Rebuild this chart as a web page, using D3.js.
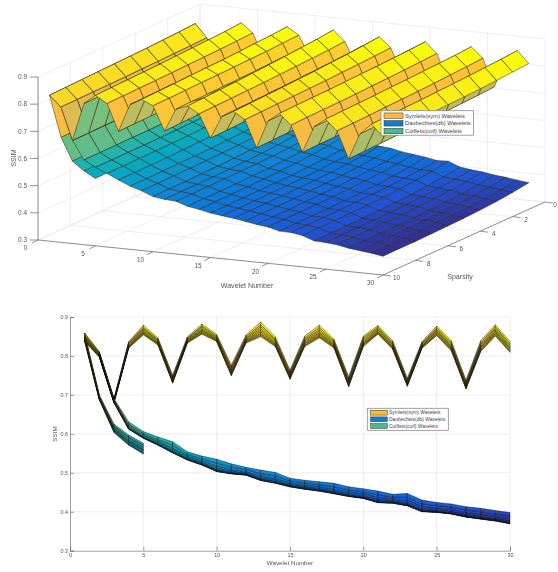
<!DOCTYPE html>
<html>

<head>
    <script src="https://d3js.org/d3.v7.min.js"></script>
    <style>
        body { margin: 0; background: #fff; }
        svg { display: block; filter: blur(0.35px); }
        text { font-family: "Liberation Sans", Arial, sans-serif; fill: #555; }
        .grid { stroke: #e6e6e6; stroke-width: 0.7px; fill: none; }
        .axisline { stroke: #666; stroke-width: 0.7px; fill: none; }
        .cell { stroke: #2a2410; stroke-linejoin: round; }
        .axis path, .axis line { stroke: #777; stroke-width: 0.7px; }
        .axis text { fill: #555; font-size: 5.4px; }
    </style>
</head>

<body>
    <div id="chart"></div>

    <script>
        // SSIM: one line per wavelet number, sparsity 1 to 10 left to right
        const symlets = [
            [.859, .855, .852, .849, .847, .845, .843, .841, .839, .837],
            [.811, .809, .807, .805, .804, .802, .801, .800, .799, .798],
            [.691, .689, .688, .686, .685, .684, .683, .682, .681, .680],
            [.837, .834, .832, .829, .827, .826, .824, .823, .821, .820],
            [.879, .874, .871, .868, .865, .862, .860, .858, .856, .854],
            [.846, .843, .840, .838, .836, .834, .832, .831, .829, .828],
            [.751, .747, .744, .742, .739, .737, .735, .733, .732, .730],
            [.849, .846, .844, .842, .840, .838, .837, .836, .834, .833],
            [.882, .877, .874, .870, .867, .865, .863, .860, .858, .856],
            [.855, .852, .849, .847, .845, .843, .842, .840, .838, .837],
            [.777, .772, .768, .764, .761, .758, .756, .753, .751, .749],
            [.854, .850, .847, .845, .842, .840, .838, .836, .835, .833],
            [.887, .880, .875, .870, .866, .862, .858, .855, .852, .849],
            [.849, .844, .841, .838, .835, .832, .830, .828, .826, .824],
            [.764, .760, .756, .753, .751, .748, .746, .744, .742, .740],
            [.851, .846, .842, .839, .836, .833, .831, .828, .826, .824],
            [.879, .873, .868, .864, .860, .857, .854, .851, .849, .846],
            [.843, .839, .836, .833, .830, .828, .826, .824, .822, .820],
            [.747, .742, .739, .735, .732, .730, .728, .725, .723, .721],
            [.851, .847, .843, .839, .835, .833, .830, .829, .826, .824],
            [.878, .874, .871, .868, .866, .863, .861, .860, .858, .856],
            [.839, .835, .832, .829, .827, .824, .822, .821, .819, .817],
            [.743, .739, .736, .734, .731, .729, .727, .725, .724, .722],
            [.837, .834, .832, .830, .827, .826, .824, .823, .821, .820],
            [.877, .872, .869, .866, .863, .861, .858, .856, .854, .852],
            [.839, .834, .831, .827, .824, .822, .820, .817, .815, .813],
            [.738, .734, .731, .728, .725, .723, .721, .719, .717, .715],
            [.839, .834, .830, .826, .823, .821, .818, .815, .813, .811],
            [.880, .875, .871, .867, .864, .861, .858, .856, .853, .851],
            [.837, .832, .828, .824, .821, .819, .816, .813, .811, .809]
        ];

        const daubechies = [
            [.859, .855, .852, .849, .847, .845, .843, .841, .839, .837],
            [.809, .807, .806, .804, .803, .801, .800, .799, .798, .797],
            [.690, .688, .687, .685, .684, .683, .682, .681, .680, .679],
            [.631, .625, .621, .618, .616, .614, .614, .613, .612, .612],
            [.606, .601, .597, .594, .592, .591, .590, .590, .589, .589],
            [.592, .585, .581, .578, .575, .574, .573, .572, .571, .571],
            [.580, .571, .564, .560, .557, .555, .553, .552, .552, .551],
            [.554, .547, .543, .540, .537, .536, .535, .534, .533, .533],
            [.543, .536, .531, .527, .525, .523, .522, .521, .520, .520],
            [.535, .525, .518, .513, .509, .507, .506, .504, .504, .503],
            [.523, .515, .509, .505, .502, .500, .499, .498, .498, .497],
            [.514, .508, .503, .500, .498, .497, .496, .495, .494, .494],
            [.507, .498, .492, .488, .485, .484, .482, .481, .481, .480],
            [.501, .492, .486, .482, .479, .477, .475, .474, .474, .473],
            [.486, .479, .474, .471, .468, .467, .466, .465, .464, .464],
            [.481, .474, .469, .465, .463, .461, .460, .459, .458, .458],
            [.477, .469, .464, .460, .458, .456, .455, .454, .453, .453],
            [.473, .464, .458, .454, .451, .450, .448, .447, .447, .446],
            [.464, .456, .451, .447, .444, .442, .441, .440, .440, .439],
            [.459, .451, .446, .442, .439, .437, .436, .435, .435, .434],
            [.453, .443, .437, .432, .429, .427, .425, .424, .424, .423],
            [.445, .438, .433, .429, .427, .425, .424, .423, .422, .422],
            [.447, .437, .430, .425, .421, .419, .418, .416, .416, .415],
            [.430, .420, .414, .409, .406, .404, .402, .401, .401, .400],
            [.424, .416, .410, .406, .403, .401, .400, .399, .399, .398],
            [.420, .412, .406, .402, .399, .397, .396, .395, .395, .394],
            [.413, .404, .398, .394, .391, .390, .388, .387, .387, .386],
            [.409, .400, .394, .390, .387, .385, .383, .382, .382, .381],
            [.403, .394, .388, .384, .381, .380, .378, .377, .377, .376],
            [.398, .389, .382, .378, .375, .373, .371, .370, .370, .369]
        ];

        const coiflets = [
            [.859, .855, .852, .849, .847, .845, .843, .841, .839, .837],
            [.700, .698, .696, .694, .693, .691, .690, .689, .688, .687],
            [.625, .621, .618, .615, .613, .611, .609, .607, .605, .603],
            [.597, .592, .589, .585, .582, .580, .578, .575, .573, .571],
            [.576, .571, .567, .563, .560, .558, .555, .552, .550, .548]
        ];

        const legendLabels = ['Symlets(sym) Wavelets', 'Daubechies(db) Wavelets', 'Coiflets(coif) Wavelets'];
        const legendColors = ['#fdb932', '#107ed2', '#4bb990'];
        const waveletTicks = [0, 5, 10, 15, 20, 25, 30];
        const sparsityTicks = [0, 2, 4, 6, 8, 10];
        const ssimTicks = [0.3, 0.4, 0.5, 0.6, 0.7, 0.8, 0.9];

        // parula, sampled
        const parulaStops = [0, .1, .2, .3, .4, .5, .6, .7, .8, .85, .9, 1];
        const parulaColors = ['#352a87', '#2053d4', '#0d75dc', '#108ed2', '#07a9c2', '#2eb7a4',
            '#71bf80', '#b7bd64', '#e9b94e', '#fdbe3d', '#fcce2e', '#f9fb0e'];

        const width = 558;
        const height = 572;
        const svg = d3.select('#chart').append('svg')
            .attr('width', width)
            .attr('height', height);

        const colorIndex = d3.scaleLinear().domain([0.369, 0.88]).range([0, 1]).clamp(true);
        const parula = d3.scaleLinear().domain(parulaStops).range(parulaColors);
        const surfaces = [symlets, daubechies, coiflets];

        // one quad per grid cell, coloured by its first corner like a flat matlab surf.
        // faces that fall steeply towards the next wavelet read more orange in the picture
        function buildCells(project, nearness) {
            const cells = [];
            surfaces.forEach(values => {
                d3.range(values.length - 1).forEach(i => {
                    d3.range(9).forEach(j => {
                        const corners = [[i, j], [i + 1, j], [i + 1, j + 1], [i, j + 1]]
                            .map(([a, b]) => [a + 1, b + 1, values[a][b]]);
                        const drop = Math.max(0, values[i][j] - values[i + 1][j]);
                        const index = colorIndex(values[i][j]) - (drop > 0.05 ? 0.5 * drop : 0);
                        cells.push({
                            points: corners.map(c => project(c[0], c[1], c[2])),
                            fill: parula(index),
                            depth: d3.mean(corners, c => nearness(c[0], c[1], c[2]))
                        });
                    });
                });
            });
            return cells.sort((a, b) => d3.ascending(a.depth, b.depth));
        }

        function drawLegend(x, y, w, h, patchX, patchW, patchH, rows, textX, fontSize) {
            const g = svg.append('g');
            g.append('rect').attr('x', x).attr('y', y).attr('width', w).attr('height', h)
                .attr('fill', '#fff').attr('stroke', '#8a8a8a').attr('stroke-width', 0.8);
            legendLabels.forEach((label, i) => {
                g.append('rect').attr('x', patchX).attr('y', rows[i] - patchH / 2)
                    .attr('width', patchW).attr('height', patchH)
                    .attr('fill', legendColors[i]).attr('stroke', '#333').attr('stroke-width', 0.5);
                g.append('text').attr('x', textX).attr('y', rows[i]).attr('dy', '0.35em')
                    .style('font-size', fontSize + 'px').style('fill', '#444').text(label);
            });
        }

        // ---- upper chart: 3d view ----
        const wave3d = d3.scaleLinear().domain([0, 30]).range([0, 1]);
        const spar3d = d3.scaleLinear().domain([0, 10]).range([1, 0]);
        const ssim3d = d3.scaleLinear().domain([0.3, 0.9]).range([0, 1]);
        const view3d = svg.append('g');

        // screen position of wavelet 0 / sparsity 10 / ssim 0.3 and where each full axis runs to
        function project(w, s, z) {
            const a = wave3d(w), b = spar3d(s), c = ssim3d(z);
            return [38 + a * 345 + b * 162, 240 + a * 35 - b * 73 - c * 163];
        }
        const near3d = (w, s, z) => w * 5.34 + s * 33.35 + ssim3d(z) * 35.7;
        const line3d = (a, b) => view3d.append('path').attr('d', d3.line()([a, b]));

        ssimTicks.forEach(z => {
            line3d(project(0, 10, z), project(0, 0, z)).attr('class', 'grid');
            line3d(project(0, 0, z), project(30, 0, z)).attr('class', 'grid');
        });
        waveletTicks.forEach(w => {
            line3d(project(w, 10, 0.3), project(w, 0, 0.3)).attr('class', 'grid');
            line3d(project(w, 0, 0.3), project(w, 0, 0.9)).attr('class', 'grid');
        });
        sparsityTicks.forEach(s => {
            line3d(project(0, s, 0.3), project(30, s, 0.3)).attr('class', 'grid');
            line3d(project(0, s, 0.3), project(0, s, 0.9)).attr('class', 'grid');
        });

        // axes and tick marks
        line3d(project(0, 10, 0.3), project(0, 10, 0.9)).attr('class', 'axisline');
        line3d(project(0, 10, 0.3), project(30, 10, 0.3)).attr('class', 'axisline');
        line3d(project(30, 10, 0.3), project(30, 0, 0.3)).attr('class', 'axisline');

        const tickText = (p, label, anchor) => view3d.append('text')
            .attr('x', p[0]).attr('y', p[1]).attr('dy', '0.35em')
            .attr('text-anchor', anchor).style('font-size', '6.4px').text(label);

        ssimTicks.forEach(z => {
            const p = project(0, 10, z);
            line3d(p, [p[0] - 8, p[1]]).attr('class', 'axisline');
            tickText([p[0] - 11, p[1]], d3.format('.1f')(z), 'end');
        });
        waveletTicks.forEach(w => {
            const p = project(w, 10, 0.3);
            line3d(p, [p[0] - 6, p[1] + 3]).attr('class', 'axisline');
            tickText([p[0] - 12.5, p[1] + 8], w, 'middle');
        });
        sparsityTicks.forEach(s => {
            const p = project(30, s, 0.3);
            line3d(p, [p[0] + 8, p[1] + 1]).attr('class', 'axisline');
            // the 0 sits hard against the page edge
            tickText([Math.min(p[0] + 13.5, 555), p[1] + 3], s, 'middle');
        });

        view3d.selectAll('polygon')
            .data(buildCells(project, near3d))
            .enter().append('polygon')
            .attr('class', 'cell')
            .attr('points', d => d.points.join(' '))
            .attr('fill', d => d.fill)
            .attr('stroke-width', 0.5);

        view3d.append('text').attr('x', 247).attr('y', 286).attr('dy', '0.35em').attr('text-anchor', 'middle')
            .style('font-size', '7.1px').text('Wavelet Number');
        view3d.append('text').attr('x', 460).attr('y', 277).attr('dy', '0.35em').attr('text-anchor', 'middle')
            .style('font-size', '7.1px').text('Sparsity');
        view3d.append('text').attr('transform', 'translate(13,158) rotate(-90)').attr('dy', '0.35em')
            .attr('text-anchor', 'middle').style('font-size', '7.1px').text('SSIM');

        drawLegend(381, 110.7, 92.5, 24.5, 384, 19, 5.5, [115.7, 123.3, 131], 405, 5.75);

        // ---- lower chart: same surfaces seen from the front ----
        const xFlat = d3.scaleLinear().domain([0, 30]).range([70, 510]);
        const yFlat = d3.scaleLinear().domain([0.3, 0.9]).range([550.7, 317]);
        const flat = svg.append('g');

        flat.selectAll('.hgrid').data(ssimTicks.slice(1)).enter().append('line')
            .attr('class', 'grid').attr('x1', 70).attr('x2', 510)
            .attr('y1', d => yFlat(d)).attr('y2', d => yFlat(d));
        flat.selectAll('.vgrid').data(waveletTicks.slice(1)).enter().append('line')
            .attr('class', 'grid').attr('y1', 317).attr('y2', 550.7)
            .attr('x1', d => xFlat(d)).attr('x2', d => xFlat(d));

        flat.append('g').attr('class', 'axis').attr('transform', 'translate(0,550.7)')
            .call(d3.axisBottom(xFlat).tickValues(waveletTicks).tickSize(-4).tickPadding(2));
        flat.append('g').attr('class', 'axis').attr('transform', 'translate(70,0)')
            .call(d3.axisLeft(yFlat).tickValues(ssimTicks).tickFormat(d3.format('.1f')).tickSize(-4).tickPadding(2));

        // thin edges, otherwise ten rows in a narrow band turn solid black
        flat.selectAll('polygon')
            .data(buildCells((w, s, z) => [xFlat(w), yFlat(z)], (w, s) => -s))
            .enter().append('polygon')
            .attr('class', 'cell')
            .attr('points', d => d.points.join(' '))
            .attr('fill', d => d.fill)
            .style('stroke', '#000')
            .attr('stroke-width', 0.4);

        flat.append('text').attr('x', 290).attr('y', 563).attr('dy', '0.35em').attr('text-anchor', 'middle')
            .style('font-size', '6.25px').text('Wavelet Number');
        flat.append('text').attr('transform', 'translate(55,434) rotate(-90)').attr('dy', '0.35em')
            .attr('text-anchor', 'middle').style('font-size', '6.25px').text('SSIM');

        drawLegend(367.3, 408.3, 81, 22, 370.7, 16.6, 4.8, [412.7, 419.3, 426], 389, 4.95);
    </script>
</body>

</html>
